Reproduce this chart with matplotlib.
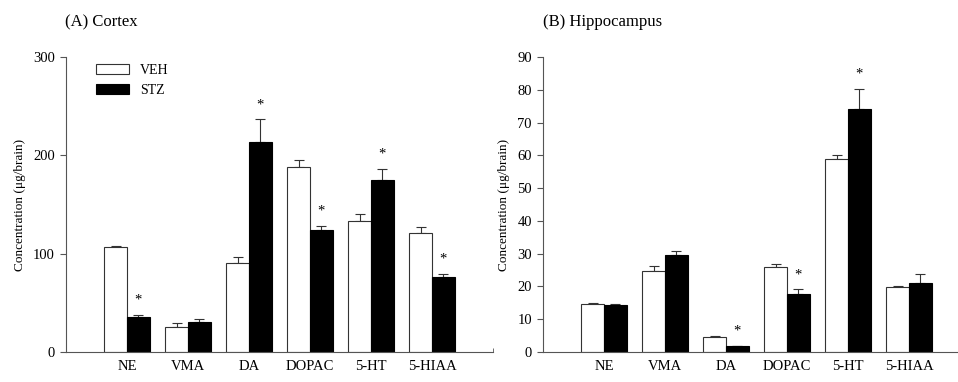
import matplotlib
matplotlib.use("Agg")
import matplotlib.pyplot as plt
import numpy as np

plt.rcParams['font.family'] = ['Liberation Serif', 'DejaVu Serif']

categories = ["NE", "VMA", "DA", "DOPAC", "5-HT", "5-HIAA"]

cortex_veh = [106.6, 25.1, 90.3, 188.3, 133.0, 121.1]
cortex_veh_err = [1.7, 4.1, 6.4, 6.8, 7.5, 6.5]
cortex_stz = [35.6, 30.5, 213.1, 124.5, 175.4, 76.7]
cortex_stz_err = [2.1, 2.8, 23.4, 3.8, 10.6, 2.4]
cortex_sig = [True, False, True, True, True, True]

hippo_veh = [14.5, 24.8, 4.5, 25.8, 58.9, 19.9]
hippo_veh_err = [0.4, 1.4, 0.4, 0.9, 1.2, 0.2]
hippo_stz = [14.4, 29.7, 1.8, 17.6, 74.1, 21.0]
hippo_stz_err = [0.3, 1.0, 0.1, 1.5, 6.2, 2.7]
hippo_sig = [False, False, True, True, True, False]

fig = plt.figure(figsize=(9.58, 3.82), dpi=100)
ax1 = fig.add_axes([66/958, 30/382, 427/958, 295/382])
ax2 = fig.add_axes([543/958, 30/382, 427/958, 295/382])

w = 0.375
x = np.arange(len(categories))
spine_col = '#555555'

def draw(ax, veh, veh_err, stz, stz_err, sig, ymax, yticks, title, title_x):
    ax.bar(x - w/2, veh, w, color='white', edgecolor='#333333', linewidth=0.8, label='VEH', zorder=2)
    ax.bar(x + w/2, stz, w, color='black', edgecolor='black', linewidth=0.8, label='STZ', zorder=2)
    ax.errorbar(x - w/2, veh, yerr=[np.zeros(len(veh)), veh_err], fmt='none', ecolor='#333333',
                elinewidth=0.8, capsize=3.5, capthick=0.8, zorder=1)
    ax.errorbar(x + w/2, stz, yerr=[np.zeros(len(stz)), stz_err], fmt='none', ecolor='#333333',
                elinewidth=0.8, capsize=3.5, capthick=0.8, zorder=1)
    for i, s in enumerate(sig):
        if s:
            ax.annotate('*', xy=(x[i] + w/2, stz[i] + stz_err[i]), xytext=(0, 6),
                        textcoords='offset points', ha='center', va='bottom', fontsize=10.5)
    ax.set_xlim(-1, 6)
    ax.set_ylim(0, ymax)
    ax.set_yticks(yticks)
    ax.set_xticks(x)
    ax.set_xticklabels(categories, fontsize=10.5)
    ax.tick_params(axis='x', length=0, pad=6)
    ax.tick_params(axis='y', length=4, width=0.8, color=spine_col, labelsize=10.5, pad=4)
    for sp in ['top', 'right']:
        ax.spines[sp].set_visible(False)
    for sp in ['left', 'bottom']:
        ax.spines[sp].set_color(spine_col)
        ax.spines[sp].set_linewidth(0.8)
    ax.set_ylabel('Concentration (\u03bcg/brain)', fontsize=9.5, labelpad=5)
    fig.text(title_x, 1 - 22/382, title, fontsize=12, ha='left', va='center')

draw(ax1, cortex_veh, cortex_veh_err, cortex_stz, cortex_stz_err, cortex_sig, 300, [0, 100, 200, 300], '(A) Cortex', 65/958)
draw(ax2, hippo_veh, hippo_veh_err, hippo_stz, hippo_stz_err, hippo_sig, 90, list(range(0, 91, 10)), '(B) Hippocampus', 543/958)

ax1.set_xticks([6], minor=True)
ax1.tick_params(axis='x', which='minor', direction='in', length=3, color=spine_col)

leg = ax1.legend(loc='upper left', bbox_to_anchor=(0.05, 1.005), frameon=False, fontsize=10,
                 handlelength=2.4, handleheight=0.75, handletextpad=0.8, labelspacing=0.5, borderaxespad=0.2)

fig.savefig('out.png', dpi=100)
